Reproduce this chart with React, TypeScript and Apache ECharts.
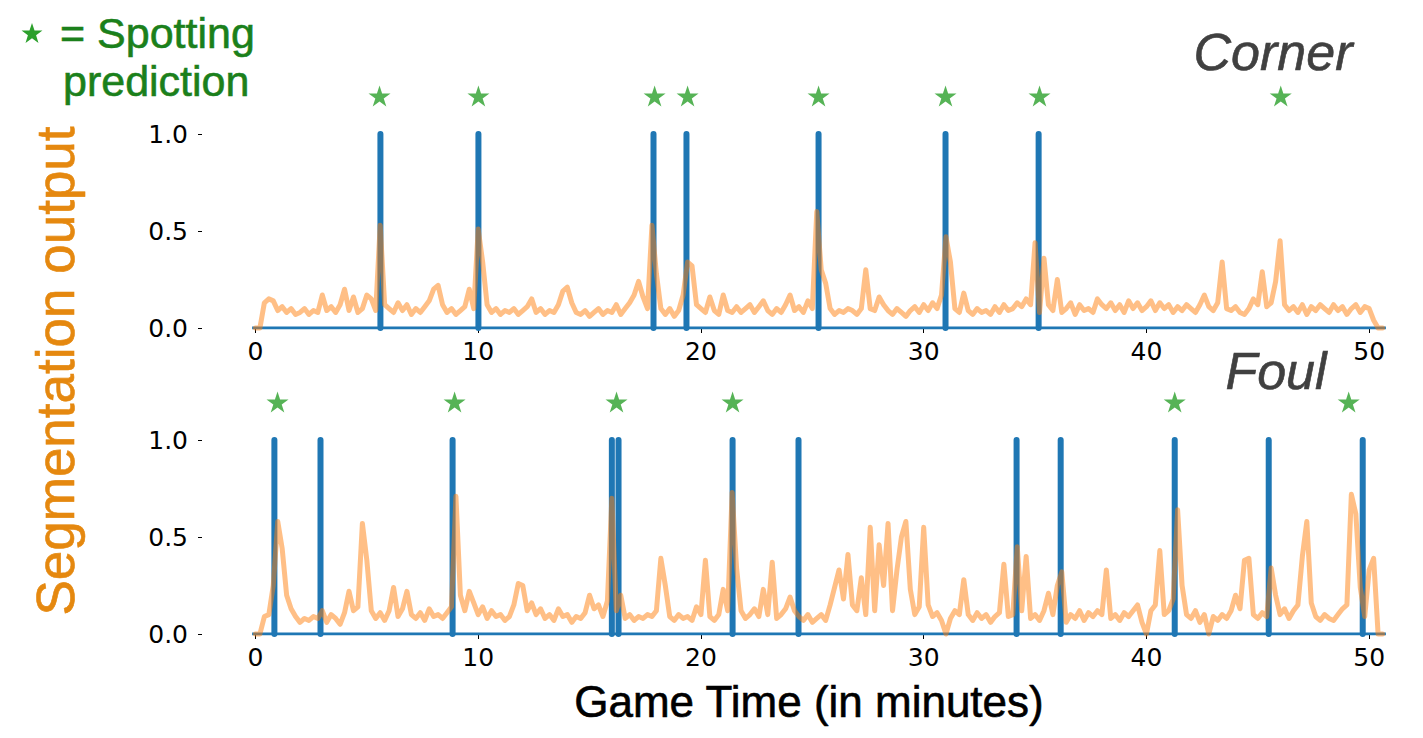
import React, { useEffect, useRef } from "react";
import * as echarts from "echarts";

// ---------------- data ----------------
const STEP = 0.2; // minutes between segmentation samples
const xTicks = [0, 10, 20, 30, 40, 50];
const yTicks = [0, 0.5, 1.0];
const gtStart = -0.15;
const gtEnd = 50.75;
const STAR_LEVEL = 1.196;

const cornerEvents = [5.61, 10.01, 17.87, 19.35, 25.28, 30.98, 35.16];
const cornerSpots = [5.57, 10.01, 17.92, 19.4, 25.28, 30.98, 35.2, 46.03];
const foulEvents = [0.85, 2.92, 8.85, 16.0, 16.3, 21.42, 24.38, 34.17, 36.15, 41.27, 45.49, 49.71];
const foulSpots = [0.99, 8.94, 16.21, 21.42, 41.27, 49.08];

const cornerSeg = [
  0, 0, 0.13, 0.15, 0.14, 0.09, 0.11, 0.08, 0.1, 0.07,
  0.08, 0.1, 0.07, 0.09, 0.08, 0.17, 0.09, 0.11, 0.08, 0.12,
  0.2, 0.09, 0.16, 0.08, 0.1, 0.17, 0.15, 0.09, 0.53, 0.12,
  0.1, 0.08, 0.13, 0.09, 0.12, 0.07, 0.1, 0.08, 0.11, 0.14,
  0.2, 0.22, 0.12, 0.08, 0.1, 0.07, 0.09, 0.11, 0.2, 0.1,
  0.51, 0.34, 0.12, 0.08, 0.1, 0.07, 0.09, 0.08, 0.1, 0.07,
  0.09, 0.11, 0.15, 0.08, 0.1, 0.07, 0.09, 0.08, 0.12, 0.19,
  0.21, 0.13, 0.08, 0.07, 0.09, 0.06, 0.08, 0.1, 0.07, 0.09,
  0.08, 0.12, 0.07, 0.1, 0.13, 0.17, 0.24, 0.16, 0.1, 0.53,
  0.28, 0.1, 0.07, 0.1, 0.06, 0.09, 0.17, 0.34, 0.32, 0.12,
  0.1, 0.08, 0.16, 0.09, 0.07, 0.17, 0.09, 0.08, 0.11, 0.08,
  0.1, 0.12, 0.08, 0.11, 0.14, 0.09, 0.07, 0.1, 0.08, 0.12,
  0.17, 0.09, 0.11, 0.08, 0.14, 0.1, 0.6, 0.3, 0.23, 0.1,
  0.07, 0.09, 0.08, 0.1, 0.09, 0.07, 0.1, 0.3, 0.1, 0.09,
  0.16, 0.12, 0.09, 0.07, 0.1, 0.08, 0.06, 0.09, 0.11, 0.08,
  0.12, 0.09, 0.13, 0.1, 0.17, 0.47, 0.34, 0.1, 0.08, 0.18,
  0.09, 0.07, 0.1, 0.08, 0.09, 0.07, 0.11, 0.08, 0.12, 0.09,
  0.1, 0.13, 0.11, 0.15, 0.12, 0.44, 0.08, 0.36, 0.12, 0.09,
  0.25, 0.08, 0.1, 0.13, 0.07, 0.12, 0.09, 0.1, 0.08, 0.15,
  0.12, 0.1, 0.13, 0.09, 0.12, 0.08, 0.14, 0.1, 0.13, 0.09,
  0.11, 0.14, 0.09, 0.13, 0.1, 0.12, 0.08, 0.11, 0.09, 0.12,
  0.1, 0.08, 0.12, 0.17, 0.11, 0.09, 0.13, 0.34, 0.1, 0.09,
  0.11, 0.08, 0.07, 0.1, 0.15, 0.12, 0.29, 0.11, 0.13, 0.24,
  0.45, 0.12, 0.09, 0.11, 0.08, 0.12, 0.07, 0.11, 0.09, 0.12,
  0.1, 0.08, 0.12, 0.09, 0.11, 0.07, 0.1, 0.12, 0.08, 0.11,
  0.1, 0.04, 0, 0,
];

const foulSeg = [
  0, 0, 0.09, 0.1, 0.25, 0.58, 0.44, 0.2, 0.13, 0.09,
  0.06, 0.08, 0.07, 0.09, 0.08, 0.12, 0.06, 0.1, 0.08, 0.05,
  0.11, 0.22, 0.12, 0.14, 0.57, 0.38, 0.12, 0.08, 0.11, 0.07,
  0.12, 0.24, 0.09, 0.13, 0.22, 0.1, 0.08, 0.11, 0.07, 0.13,
  0.09, 0.1, 0.08, 0.11, 0.14, 0.71, 0.2, 0.12, 0.22, 0.16,
  0.1, 0.14, 0.08, 0.12, 0.09, 0.1, 0.07, 0.09, 0.15, 0.26,
  0.25, 0.12, 0.16, 0.1, 0.13, 0.08, 0.1, 0.07, 0.13, 0.09,
  0.1, 0.06, 0.09, 0.08, 0.11, 0.2, 0.13, 0.15, 0.09, 0.17,
  0.7, 0.12, 0.2, 0.08, 0.1, 0.07, 0.09, 0.08, 0.1, 0.09,
  0.12, 0.39, 0.25, 0.09, 0.07, 0.1, 0.08, 0.09, 0.07, 0.14,
  0.1, 0.38, 0.09, 0.07, 0.1, 0.23, 0.12, 0.73, 0.34, 0.12,
  0.08, 0.1, 0.13, 0.09, 0.23, 0.1, 0.37, 0.08, 0.1, 0.13,
  0.19, 0.12, 0.09, 0.07, 0.1, 0.06, 0.08, 0.1, 0.07, 0.15,
  0.24, 0.33, 0.18, 0.41, 0.15, 0.12, 0.29, 0.1, 0.55, 0.12,
  0.46, 0.25, 0.57, 0.12, 0.33, 0.5, 0.58, 0.23, 0.1, 0.14,
  0.55, 0.15, 0.09, 0.11, 0.07, 0, 0.08, 0.12, 0.1, 0.28,
  0.1, 0.07, 0.11, 0.08, 0.1, 0.06, 0.09, 0.11, 0.36, 0.09,
  0.1, 0.45, 0.12, 0.4, 0.08, 0.1, 0.07, 0.12, 0.21, 0.1,
  0.25, 0.32, 0.06, 0.1, 0.08, 0.12, 0.07, 0.11, 0.09, 0.12,
  0.1, 0.33, 0.08, 0.1, 0.07, 0.11, 0.09, 0.12, 0.15, 0.06,
  0, 0.12, 0.15, 0.43, 0.1, 0.12, 0.18, 0.64, 0.25, 0.1,
  0.08, 0.12, 0.06, 0.1, 0, 0.09, 0.07, 0.1, 0.08, 0.12,
  0.2, 0.13, 0.38, 0.39, 0.1, 0.08, 0.11, 0.09, 0.34, 0.2,
  0.1, 0.13, 0.08, 0.12, 0.15, 0.4, 0.58, 0.16, 0.09, 0.07,
  0.1, 0.08, 0.07, 0.1, 0.13, 0.15, 0.72, 0.62, 0.24, 0.09,
  0.33, 0.39, 0, 0,
];

// ---------------- styling ----------------
const BLUE = "#1f77b4";
const ORANGE = "rgba(255,127,14,0.5)";
const GREEN = "#2ca02c";
const TICK_FONT = "'DejaVu Sans', sans-serif";
const TEXT_FONT = "'Liberation Sans', Arial, sans-serif";

function starPoints(cx: number, cy: number, R: number, r: number): number[][] {
  const pts: number[][] = [];
  for (let k = 0; k < 10; k++) {
    const rad = k % 2 === 0 ? R : r;
    const a = -Math.PI / 2 + (k * Math.PI) / 5;
    pts.push([cx + rad * Math.cos(a), cy + rad * Math.sin(a)]);
  }
  return pts;
}
const starPath =
  "path://" +
  starPoints(0, 0, 1, 0.382)
    .map((p, k) => (k === 0 ? "M" : "L") + p[0].toFixed(4) + " " + p[1].toFixed(4))
    .join(" ") +
  " Z";

function spikes(events: number[]) {
  const out: any[] = [];
  events.forEach((e) => {
    out.push([e, 0], [e, 1], [e, "-"]);
  });
  return out;
}

function panelSeries(idx: number, events: number[], spots: number[], seg: number[]) {
  return [
    {
      type: "line",
      xAxisIndex: idx,
      yAxisIndex: idx,
      data: [[gtStart, 0], [gtEnd, 0]],
      symbol: "none",
      lineStyle: { color: BLUE, width: 3 },
      z: 2,
      silent: true,
    },
    {
      type: "line",
      xAxisIndex: idx,
      yAxisIndex: idx,
      data: spikes(events),
      symbol: "none",
      connectNulls: false,
      clip: false,
      lineStyle: { color: BLUE, width: 6, cap: "round", join: "round" },
      z: 3,
      silent: true,
    },
    {
      type: "line",
      xAxisIndex: idx,
      yAxisIndex: idx,
      data: seg.map((v, i) => [i * STEP, v]),
      symbol: "none",
      clip: false,
      lineStyle: { color: ORANGE, width: 5, join: "round", cap: "round" },
      z: 4,
      silent: true,
    },
    {
      type: "scatter",
      xAxisIndex: idx,
      yAxisIndex: idx,
      data: spots.map((s) => [s, STAR_LEVEL]),
      symbol: starPath,
      symbolSize: [22, 21],
      clip: false,
      itemStyle: { color: GREEN },
      z: 5,
      silent: true,
    },
  ];
}

function xAxis(idx: number) {
  return {
    type: "value",
    gridIndex: idx,
    min: -2.4,
    max: 50.8,
    axisLine: { show: false, onZero: false },
    splitLine: { show: false },
    axisTick: {
      show: true,
      length: 5,
      lineStyle: { color: "#000", width: 1 },
      customValues: xTicks,
    },
    axisLabel: {
      customValues: xTicks,
      fontSize: 25,
      fontFamily: TICK_FONT,
      color: "#000",
      margin: 11,
    },
  };
}

function yAxis(idx: number) {
  return {
    type: "value",
    gridIndex: idx,
    min: yTicks[0],
    max: yTicks[yTicks.length - 1],
    interval: 0.5,
    axisLine: { show: false, onZero: false },
    splitLine: { show: false },
    axisTick: { show: true, length: 4, lineStyle: { color: "#000", width: 1 } },
    axisLabel: {
      fontSize: 25,
      fontFamily: TICK_FONT,
      color: "#000",
      margin: 14,
      formatter: (v: number) => v.toFixed(1),
    },
  };
}

function label(text: string, x: number, y: number, font: string, fill: string, align: string, rotation = 0) {
  return {
    type: "text",
    x,
    y,
    rotation,
    style: {
      text,
      font,
      fill,
      stroke: fill,
      lineWidth: 0.6,
      textAlign: align,
      textVerticalAlign: "middle",
    },
  };
}

export default function App() {
  const ref = useRef<HTMLDivElement>(null);
  useEffect(() => {
    if (!ref.current) return;
    const chart = echarts.init(ref.current, undefined, { renderer: "svg" });
    const option: any = {
      animation: false,
      backgroundColor: "#fff",
      grid: [
        { left: 202, top: 134, width: 1185, height: 194 },
        { left: 202, top: 440, width: 1185, height: 194 },
      ],
      xAxis: [xAxis(0), xAxis(1)],
      yAxis: [yAxis(0), yAxis(1)],
      series: [
        ...panelSeries(0, cornerEvents, cornerSpots, cornerSeg),
        ...panelSeries(1, foulEvents, foulSpots, foulSeg),
      ],
      graphic: [
        {
          type: "polygon",
          shape: { points: starPoints(32, 34, 11, 4.3) },
          style: { fill: GREEN },
        },
        label("= Spotting", 60, 33, `43px ${TEXT_FONT}`, "#1b801b", "left"),
        label("prediction", 63, 81, `43px ${TEXT_FONT}`, "#1b801b", "left"),
        label("Corner", 1273, 52, `italic 52px ${TEXT_FONT}`, "#404040", "center"),
        label("Foul", 1276, 371, `italic 52px ${TEXT_FONT}`, "#404040", "center"),
        label("Game Time (in minutes)", 809, 701, `44px ${TEXT_FONT}`, "#000", "center"),
        label("Segmentation output", 55, 371, `53px ${TEXT_FONT}`, "#e5880f", "center", Math.PI / 2),
      ],
    };
    chart.setOption(option);
    return () => chart.dispose();
  }, []);
  return (
    <div
      ref={ref}
      style={{ position: "fixed", left: 0, top: 0, width: 1423, height: 738, background: "#fff" }}
    />
  );
}
